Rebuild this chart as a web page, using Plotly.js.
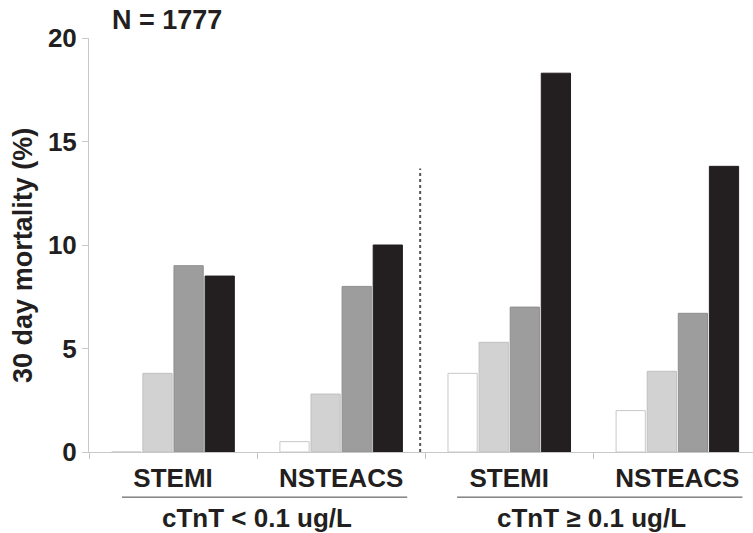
<!DOCTYPE html>
<html>
<head>
<meta charset="utf-8">
<script src="https://cdn.plot.ly/plotly-3.0.1.min.js"></script>
<style>html,body{margin:0;padding:0;background:#fff;}#chart{width:753px;height:533px;}</style>
</head>
<body>
<div id="chart"></div>
<script>
var categories = ["STEMI", "NSTEACS", "STEMI ", "NSTEACS "];
var tickLabels = ["STEMI", "NSTEACS", "STEMI", "NSTEACS"];
var groupLabels = ["cTnT < 0.1 ug/L", "cTnT \u2265 0.1 ug/L"];
var seriesWhite = [0, 0.5, 3.8, 2.0];
var seriesLight = [3.8, 2.8, 5.3, 3.9];
var seriesMedium = [9.0, 8.0, 7.0, 6.7];
var seriesBlack = [8.5, 10.0, 18.3, 13.8];
var yTicks = [0, 5, 10, 15, 20];
var nLabel = "N = 1777";
var yTitle = "30 day mortality (%)";

var FONT = "Liberation Sans, Arial, Helvetica, sans-serif";
var TXT = "#231f20";

function bar(vals, color, line) {
  return {
    type: "bar", x: categories, y: vals,
    marker: {color: color, line: {color: line, width: 1}},
    hoverinfo: "none", showlegend: false
  };
}

var data = [
  bar(seriesWhite, "#ffffff", "#c8c8c8"),
  bar(seriesLight, "#d2d2d2", "#c0c0c0"),
  bar(seriesMedium, "#9d9d9d", "#8e8e8e"),
  bar(seriesBlack, "#231f20", "#231f20")
];

var layout = {
  width: 753, height: 533,
  margin: {l: 89, r: 0, t: 38, b: 81},
  paper_bgcolor: "#fff", plot_bgcolor: "#fff",
  barmode: "group", bargap: 0.26, bargroupgap: 0.06,
  xaxis: {
    type: "category", range: [-0.5, 3.45],
    tickvals: categories, ticktext: tickLabels,
    tickson: "boundaries", ticks: "outside", ticklen: 6, tickcolor: "#c8c8c8",
    showline: true, linecolor: "#c8c8c8", linewidth: 1,
    showgrid: false, zeroline: false, ticklabelstandoff: 3,
    tickfont: {family: FONT, size: 26, color: TXT, weight: "bold"}
  },
  yaxis: {
    range: [0, 20], tickvals: yTicks,
    ticks: "outside", ticklen: 6, tickcolor: "#c8c8c8",
    showline: true, linecolor: "#c8c8c8", linewidth: 1,
    showgrid: false, zeroline: false,
    tickfont: {family: FONT, size: 26, color: TXT, weight: "bold"}
  },
  shapes: [
    {type: "line", xref: "x", yref: "paper", x0: 1.47, x1: 1.47, y0: 0, y1: 0.685,
     line: {color: "#555", width: 2, dash: "dot"}},
    {type: "line", xref: "x", yref: "paper", x0: -0.304, x1: 1.393, y0: -0.109, y1: -0.109,
     line: {color: "#444", width: 1}},
    {type: "line", xref: "x", yref: "paper", x0: 1.69, x1: 3.387, y0: -0.109, y1: -0.109,
     line: {color: "#444", width: 1}}
  ],
  annotations: [
    {text: nLabel, xref: "paper", yref: "paper", x: 0.0316, y: 1.043, xanchor: "left", yanchor: "middle",
     showarrow: false, font: {family: FONT, size: 27, color: TXT, weight: "bold"}},
    {text: yTitle, xref: "paper", yref: "paper", x: -0.0994, y: 0.476, xanchor: "center", yanchor: "middle",
     textangle: -90, showarrow: false, font: {family: FONT, size: 27, color: TXT, weight: "bold"}},
    {text: groupLabels[0], xref: "x", yref: "paper", x: 0.5, y: -0.159, xanchor: "center", yanchor: "middle",
     showarrow: false, font: {family: FONT, size: 26, color: TXT, weight: "bold"}},
    {text: groupLabels[1], xref: "x", yref: "paper", x: 2.49, y: -0.159, xanchor: "center", yanchor: "middle",
     showarrow: false, font: {family: FONT, size: 26, color: TXT, weight: "bold"}}
  ]
};

Plotly.newPlot("chart", data, layout, {displayModeBar: false, staticPlot: true});
</script>
</body>
</html>
